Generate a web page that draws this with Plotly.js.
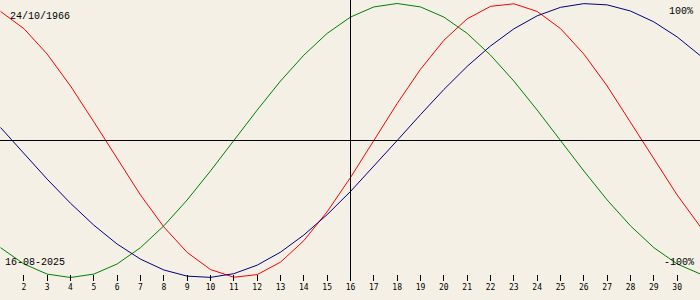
<!DOCTYPE html>
<html>
<head>
<meta charset="utf-8">
<script src="https://cdn.plot.ly/plotly-3.0.1.min.js"></script>
<style>html,body{margin:0;padding:0;background:#F4F0E6;}#chart{width:700px;height:300px;}</style>
</head>
<body>
<div id="chart"></div>
<script>
const days = [1,2,3,4,5,6,7,8,9,10,11,12,13,14,15,16,17,18,19,20,21,22,23,24,25,26,27,28,29,30,31];
const physical = [0.942,0.817,0.631,0.398,0.136,-0.136,-0.398,-0.631,-0.817,-0.942,-0.998,-0.979,-0.888,-0.731,-0.520,-0.270,0,0.270,0.520,0.731,0.888,0.979,0.998,0.942,0.817,0.631,0.398,0.136,-0.136,-0.398,-0.631];
const emotional = [-0.782,-0.901,-0.975,-1,-0.975,-0.901,-0.782,-0.623,-0.434,-0.222,0,0.222,0.434,0.623,0.782,0.901,0.975,1,0.975,0.901,0.782,0.623,0.434,0.222,0,-0.222,-0.434,-0.623,-0.782,-0.901,-0.975];
const intellectual = [0.095,-0.095,-0.282,-0.458,-0.618,-0.756,-0.866,-0.945,-0.990,-0.999,-0.972,-0.910,-0.815,-0.690,-0.541,-0.372,-0.189,0,0.189,0.372,0.541,0.690,0.815,0.910,0.972,0.999,0.990,0.945,0.866,0.756,0.618];
const tickDays = [2,3,4,5,6,7,8,9,10,11,12,13,14,15,16,17,18,19,20,21,22,23,24,25,26,27,28,29,30];
const tickText = tickDays.map(String);
const birthLabel = "24/10/1966";
const dateLabel = "16-08-2025";
const currentDay = 16;

const lineStyle = c => ({color: c, width: 1});
const traces = [
  {x: days, y: physical, mode: 'lines', line: lineStyle('#FF0000'), hoverinfo: 'skip'},
  {x: days, y: emotional, mode: 'lines', line: lineStyle('#008000'), hoverinfo: 'skip'},
  {x: days, y: intellectual, mode: 'lines', line: lineStyle('#000080'), hoverinfo: 'skip'}
];
const txt = {family: 'Liberation Mono, DejaVu Sans Mono, monospace', size: 10, color: '#000'};
const H = 281;
const dayW = 700 / 30;
const xs = 0.5 / dayW;
const layout = {
  width: 700, height: 300,
  margin: {l: 0, r: 0, t: 0, b: 19, pad: 0},
  paper_bgcolor: '#F4F0E6', plot_bgcolor: '#F4F0E6',
  showlegend: false,
  xaxis: {range: [1 - xs, 31 - xs], tickvals: tickDays, ticktext: tickText, ticks: 'inside', ticklen: 6,
          tickcolor: '#000', tickwidth: 1, showgrid: false, zeroline: false, showline: false,
          tickfont: {family: 'DejaVu Sans Mono, monospace', size: 8, color: '#000'}, fixedrange: true},
  yaxis: {range: [-(H - 140.5) / 137, 140.5 / 137], showgrid: false, zeroline: false, showline: false,
          showticklabels: false, ticks: '', fixedrange: true},
  shapes: [
    {type: 'line', xref: 'x', yref: 'paper', x0: currentDay, x1: currentDay, y0: 0, y1: 1, line: {color: '#000', width: 1}},
    {type: 'line', xref: 'paper', yref: 'y', x0: 0, x1: 1, y0: 0, y1: 0, line: {color: '#000', width: 1}}
  ],
  annotations: [
    {text: birthLabel, xref: 'paper', yref: 'paper', x: 9 / 700, y: 1 - 16.5 / H, xanchor: 'left', yanchor: 'middle', showarrow: false, font: txt, borderpad: 0},
    {text: '100%', xref: 'paper', yref: 'paper', x: 694 / 700, y: 1 - 12 / H, xanchor: 'right', yanchor: 'middle', showarrow: false, font: txt, borderpad: 0},
    {text: dateLabel, xref: 'paper', yref: 'paper', x: 4 / 700, y: 1 - 262 / H, xanchor: 'left', yanchor: 'middle', showarrow: false, font: txt, borderpad: 0},
    {text: '-100%', xref: 'paper', yref: 'paper', x: 695 / 700, y: 1 - 262 / H, xanchor: 'right', yanchor: 'middle', showarrow: false, font: txt, borderpad: 0}
  ]
};
Plotly.newPlot('chart', traces, layout, {displayModeBar: false, staticPlot: true});
</script>
</body>
</html>
